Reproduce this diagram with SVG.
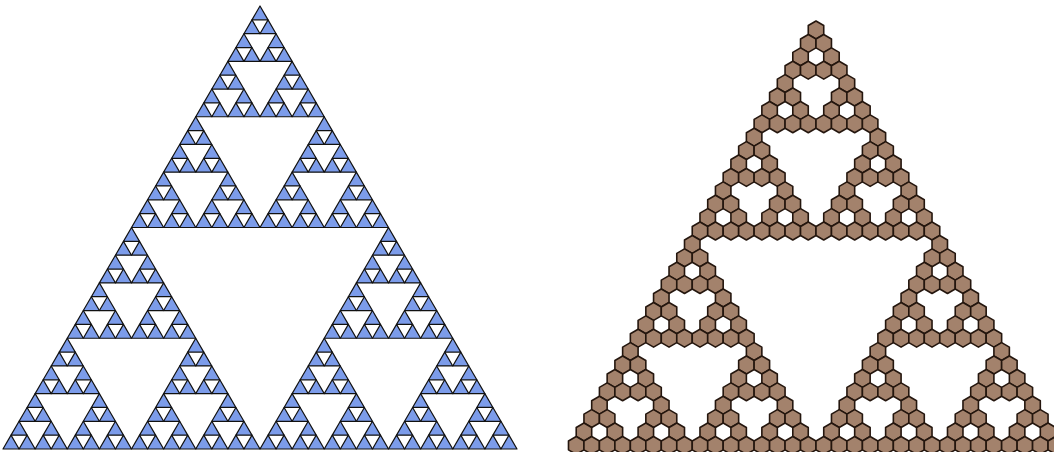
<svg xmlns="http://www.w3.org/2000/svg" xmlns:xlink="http://www.w3.org/1999/xlink" width="1054" height="452" viewBox="0 0 1054 452">
  <style>
    .tri { fill: #7c9cea; stroke: #111; stroke-width: 1.2; stroke-linejoin: round; }
    .hex { fill: #a3826c; stroke: #24160e; stroke-width: 1.6; stroke-linejoin: round; }
  </style>
  <defs>
    <polygon id="t0" class="tri" points="0,13.84375 16.0625,13.84375 8.03125,0"/>
    <g id="t1"><use xlink:href="#t0" x="8.03125" y="0"/><use xlink:href="#t0" x="0" y="13.84375"/><use xlink:href="#t0" x="16.0625" y="13.84375"/></g>
    <g id="t2"><use xlink:href="#t1" x="16.0625" y="0"/><use xlink:href="#t1" x="0" y="27.6875"/><use xlink:href="#t1" x="32.125" y="27.6875"/></g>
    <g id="t3"><use xlink:href="#t2" x="32.125" y="0"/><use xlink:href="#t2" x="0" y="55.375"/><use xlink:href="#t2" x="64.25" y="55.375"/></g>
    <g id="t4"><use xlink:href="#t3" x="64.25" y="0"/><use xlink:href="#t3" x="0" y="110.75"/><use xlink:href="#t3" x="128.5" y="110.75"/></g>
    <g id="t5"><use xlink:href="#t4" x="128.5" y="0"/><use xlink:href="#t4" x="0" y="221.5"/><use xlink:href="#t4" x="257" y="221.5"/></g>

    <polygon id="h0" class="hex" points="0,-8.933 7.735,-4.467 7.735,4.467 0,8.933 -7.735,4.467 -7.735,-4.467"/>
    <g id="h1"><use xlink:href="#h0"/><use xlink:href="#h0" x="-7.735" y="13.4"/><use xlink:href="#h0" x="7.735" y="13.4"/></g>
    <g id="h2"><use xlink:href="#h1"/><use xlink:href="#h1" x="-15.47" y="26.8"/><use xlink:href="#h1" x="15.47" y="26.8"/></g>
    <g id="h3"><use xlink:href="#h2"/><use xlink:href="#h2" x="-30.94" y="53.6"/><use xlink:href="#h2" x="30.94" y="53.6"/></g>
    <g id="h4"><use xlink:href="#h3"/><use xlink:href="#h3" x="-61.88" y="107.2"/><use xlink:href="#h3" x="61.88" y="107.2"/></g>
    <g id="h5"><use xlink:href="#h4"/><use xlink:href="#h4" x="-123.76" y="214.4"/><use xlink:href="#h4" x="123.76" y="214.4"/></g>
  </defs>
  <rect width="1054" height="452" fill="#ffffff"/>
  <g id="sierpinski-triangles">
    <use xlink:href="#t5" x="3" y="6"/>
  </g>
  <g id="sierpinski-hexagons">
    <use xlink:href="#h5" x="816" y="30"/>
  </g>
</svg>
